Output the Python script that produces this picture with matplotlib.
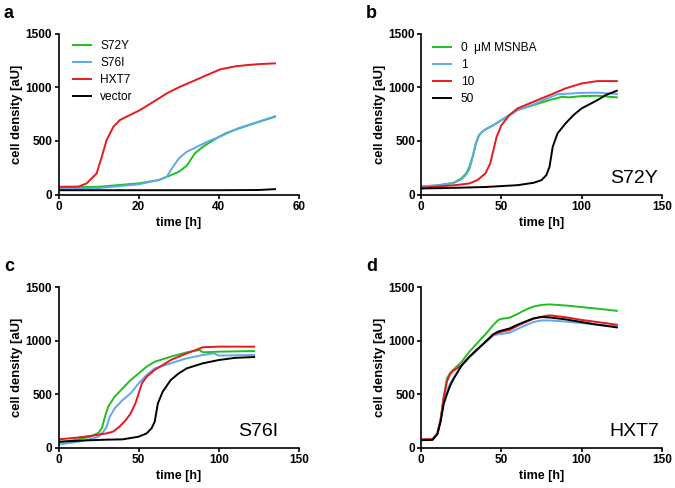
import matplotlib
matplotlib.use("Agg")
import matplotlib.pyplot as plt

plt.rcParams['font.family'] = ['Liberation Sans', 'DejaVu Sans']

GREEN = '#1fbf1f'
BLUE = '#5ea8ec'
RED = '#e8181c'
BLACK = '#000000'

# panel a: growth of the strains (time in h, density in aU)
a_green_t = [0, 10, 20, 25, 28, 30, 32, 34, 36, 38, 40, 42, 45, 50, 54]
a_green_y = [65, 72, 104, 134, 180, 212, 268, 383, 445, 492, 538, 576, 616, 678, 725]
a_blue_t = [0, 10, 20, 25, 27, 28, 30, 32, 35, 38, 40, 45, 50, 54]
a_blue_y = [48, 60, 95, 135, 165, 227, 336, 398, 454, 507, 535, 620, 680, 730]
a_red_t = [0, 5, 7, 9.5, 10.8, 12, 13.7, 15.3, 17.8, 20.3, 23.7, 27, 30.3, 33.6, 37, 40.3, 44, 47, 50.3, 54]
a_red_y = [72, 74, 103, 196, 352, 507, 632, 694, 741, 787, 865, 943, 1005, 1058, 1114, 1167, 1195, 1207, 1217, 1223]
a_black_t = [0, 20, 40, 50, 54]
a_black_y = [40, 40, 40, 42, 50]

# panel b: S72Y with 0, 1, 10, 50 uM MSNBA
b_green_t = [0, 10, 20, 25, 28, 30, 32, 34, 36, 38, 40, 45, 50, 55, 60, 70, 80, 88, 92, 100, 110, 122]
b_green_y = [75, 85, 109, 150, 196, 258, 352, 476, 554, 585, 607, 647, 694, 741, 787, 834, 881, 912, 906, 918, 921, 906]
b_blue_t = [0, 10, 20, 25, 28, 30, 32, 34, 36, 38, 40, 45, 50, 55, 60, 70, 80, 85, 100, 110, 122]
b_blue_y = [75, 85, 105, 140, 185, 235, 340, 470, 550, 585, 607, 647, 694, 741, 787, 840, 905, 935, 948, 950, 938]
b_red_t = [0, 10, 20, 30, 35, 40, 43, 45, 47, 50, 55, 60, 70, 80, 90, 100, 110, 122]
b_red_y = [62, 75, 85, 103, 134, 196, 289, 414, 538, 647, 741, 803, 865, 927, 990, 1036, 1058, 1058]
b_black_t = [0, 20, 40, 60, 70, 75, 78, 80, 82, 85, 90, 95, 100, 110, 115, 122]
b_black_y = [56, 62, 70, 87, 109, 134, 180, 258, 445, 570, 663, 741, 803, 881, 927, 968]

# panel c: S76I
c_green_t = [0, 10, 20, 25, 27, 29, 31, 35, 40, 45, 50, 55, 60, 70, 80, 88, 90, 100, 122]
c_green_y = [47, 72, 103, 140, 181, 290, 384, 477, 555, 633, 695, 758, 804, 851, 892, 914, 892, 898, 904]
c_blue_t = [0, 10, 20, 25, 28, 30, 32, 35, 40, 45, 50, 55, 60, 70, 80, 90, 97, 100, 122]
c_blue_y = [31, 50, 80, 103, 150, 196, 290, 368, 446, 508, 602, 680, 742, 789, 836, 867, 883, 861, 867]
c_red_t = [0, 10, 20, 30, 34, 38, 42, 45, 48, 50, 52, 55, 60, 65, 70, 80, 90, 100, 122]
c_red_y = [78, 92, 110, 134, 150, 196, 259, 321, 415, 508, 602, 664, 727, 773, 820, 882, 939, 945, 945]
c_black_t = [0, 20, 30, 40, 50, 55, 58, 60, 62, 65, 70, 75, 80, 90, 100, 110, 122]
c_black_y = [56, 70, 75, 78, 103, 134, 181, 243, 415, 524, 633, 695, 742, 789, 820, 840, 848]

# panel d: HXT7
d_t = [0, 7, 10, 12, 14, 16, 18, 20, 25, 30, 35, 40, 45, 48, 50, 55, 60, 65, 70, 75, 80, 90, 100, 110, 122]
d_green_y = [75, 78, 134, 259, 477, 649, 700, 730, 800, 898, 980, 1060, 1150, 1194, 1205, 1215, 1250, 1290, 1320, 1335, 1340, 1330, 1315, 1300, 1280]
d_blue_y = [72, 75, 130, 250, 430, 530, 600, 650, 765, 850, 920, 985, 1050, 1062, 1065, 1075, 1110, 1145, 1175, 1190, 1190, 1180, 1165, 1150, 1135]
d_red_y = [78, 80, 134, 259, 470, 620, 690, 720, 770, 850, 920, 990, 1060, 1078, 1085, 1100, 1140, 1175, 1205, 1225, 1238, 1220, 1195, 1175, 1150]
d_black_y = [70, 73, 125, 240, 410, 500, 580, 640, 765, 850, 920, 990, 1062, 1085, 1095, 1115, 1150, 1180, 1210, 1222, 1218, 1200, 1175, 1150, 1125]

a_labels = ['S72Y', 'S76I', 'HXT7', 'vector']
b_labels = ['0  \u03bcM MSNBA', '1', '10', '50']
strain_names = ['S72Y', 'S76I', 'HXT7']

fig = plt.figure(figsize=(6.75, 4.88), dpi=100)

W, H = 675.0, 488.0
def add_ax(left, top, right, bottom):
    return fig.add_axes([left / W, 1 - bottom / H, (right - left) / W, (bottom - top) / H])

ax_a = add_ax(58.5, 33.7, 299.0, 194.5)
ax_b = add_ax(421.3, 33.7, 661.7, 194.5)
ax_c = add_ax(58.5, 287.3, 299.0, 447.7)
ax_d = add_ax(421.3, 287.3, 661.7, 447.7)

lw = 1.4
ax_a.plot(a_green_t, a_green_y, color=GREEN, lw=lw, label=a_labels[0])
ax_a.plot(a_blue_t, a_blue_y, color=BLUE, lw=lw, label=a_labels[1])
ax_a.plot(a_red_t, a_red_y, color=RED, lw=lw, label=a_labels[2])
ax_a.plot(a_black_t, a_black_y, color=BLACK, lw=lw, label=a_labels[3])

ax_b.plot(b_green_t, b_green_y, color=GREEN, lw=lw, label=b_labels[0])
ax_b.plot(b_blue_t, b_blue_y, color=BLUE, lw=lw, label=b_labels[1])
ax_b.plot(b_red_t, b_red_y, color=RED, lw=lw, label=b_labels[2])
ax_b.plot(b_black_t, b_black_y, color=BLACK, lw=lw, label=b_labels[3])

ax_c.plot(c_green_t, c_green_y, color=GREEN, lw=lw)
ax_c.plot(c_blue_t, c_blue_y, color=BLUE, lw=lw)
ax_c.plot(c_red_t, c_red_y, color=RED, lw=lw)
ax_c.plot(c_black_t, c_black_y, color=BLACK, lw=lw)

ax_d.plot(d_t, d_green_y, color=GREEN, lw=lw)
ax_d.plot(d_t, d_blue_y, color=BLUE, lw=lw)
ax_d.plot(d_t, d_red_y, color=RED, lw=lw)
ax_d.plot(d_t, d_black_y, color=BLACK, lw=lw)

for ax, xmax in [(ax_a, 60), (ax_b, 150), (ax_c, 150), (ax_d, 150)]:
    ax.set_xlim(0, xmax)
    ax.set_ylim(0, 1500)
    ax.set_xticks(range(0, xmax + 1, 20 if xmax == 60 else 50))
    ax.set_yticks([0, 500, 1000, 1500])
    for s in ['top', 'right']:
        ax.spines[s].set_visible(False)
    for s in ['left', 'bottom']:
        ax.spines[s].set_linewidth(1.2)
    ax.tick_params(direction='out', length=3, width=1.2, labelsize=8.5, pad=1.5)
    for lab in ax.get_xticklabels() + ax.get_yticklabels():
        lab.set_fontweight('bold')
    ax.set_xlabel('time [h]', fontsize=9, fontweight='bold', labelpad=3)
    ax.set_ylabel('cell density [aU]', fontsize=9.4, fontweight='bold', labelpad=2)

ax_a.legend(loc='upper left', bbox_to_anchor=(0.04, 0.99), frameon=False,
            fontsize=8.6, handlelength=1.5, handletextpad=0.8, labelspacing=0.42,
            borderaxespad=0)
ax_b.legend(loc='upper left', bbox_to_anchor=(0.03, 0.98), frameon=False,
            fontsize=8.6, handlelength=1.5, handletextpad=0.8, labelspacing=0.42,
            borderaxespad=0)

for ax, name, x, y in [(ax_b, strain_names[0], 0.985, 0.07), (ax_c, strain_names[1], 0.915, 0.073),
                       (ax_d, strain_names[2], 0.99, 0.07)]:
    ax.text(x, y, name, transform=ax.transAxes, ha='right', va='baseline', fontsize=14)

for letter, x, y in [('a', 4, 18.3), ('b', 366, 18.3), ('c', 4, 271), ('d', 366, 271)]:
    fig.text(x / W, 1 - y / H, letter, fontsize=13, fontweight='bold', va='baseline')

fig.savefig('out.png', dpi=100)
